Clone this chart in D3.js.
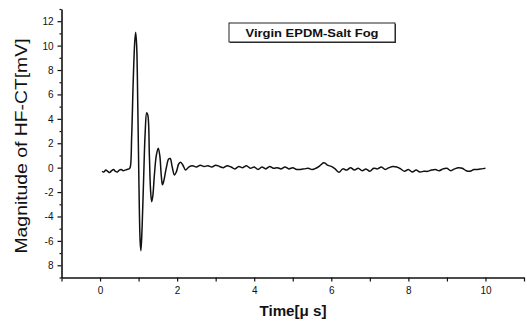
<!DOCTYPE html>
<html>
<head>
<meta charset="utf-8">
<script src="https://cdn.jsdelivr.net/npm/d3@7"></script>
<style>
  body { margin: 0; background: #fff; }
  text { font-family: "Liberation Sans", Arial, sans-serif; fill: #111; }
</style>
</head>
<body>
<svg id="chart" width="527" height="324"></svg>
<script>
// HF-CT signal (time in µs, magnitude in mV)
const times = [
  0.05, 0.10, 0.15, 0.20, 0.25, 0.30, 0.35, 0.40, 0.45, 0.50, 0.55, 0.60, 0.65, 0.70, 0.75, 0.78,
  0.82, 0.86, 0.90, 0.925, 0.95, 0.98, 1.01, 1.04, 1.06, 1.09, 1.13, 1.17, 1.21, 1.24, 1.28, 1.31,
  1.34, 1.37, 1.41, 1.46, 1.51, 1.55, 1.59, 1.62, 1.66, 1.72, 1.78, 1.82, 1.87, 1.93, 1.98, 2.04,
  2.09, 2.15, 2.22, 2.30, 2.40, 2.50, 2.60, 2.70, 2.80, 2.90, 3.00, 3.10, 3.20, 3.30, 3.40, 3.50,
  3.60, 3.70, 3.80, 3.90, 4.00, 4.10, 4.20, 4.30, 4.40, 4.50, 4.60, 4.70, 4.80, 4.90, 5.00, 5.10,
  5.20, 5.30, 5.40, 5.50, 5.60, 5.70, 5.80, 5.85, 5.90, 6.00, 6.10, 6.20, 6.30, 6.40, 6.50, 6.60,
  6.70, 6.80, 6.90, 7.00, 7.10, 7.20, 7.30, 7.40, 7.50, 7.60, 7.70, 7.80, 7.90, 8.00, 8.10, 8.20,
  8.30, 8.40, 8.50, 8.60, 8.70, 8.80, 8.90, 9.00, 9.10, 9.20, 9.30, 9.40, 9.50, 9.60, 9.70, 9.80,
  9.90, 10.00
];
const magnitudes = [
  -0.30, -0.35, -0.20, -0.30, -0.40, -0.25, -0.15, -0.30, -0.35, -0.20, -0.15, -0.25, -0.20, -0.15, -0.10, 0.00,
  2.50, 7.00, 10.30, 11.10, 10.00, 5.00, -1.50, -6.00, -6.80, -5.00, -1.00, 2.80, 4.50, 4.30, 1.00, -1.80,
  -2.80, -2.30, -0.60, 1.00, 1.60, 1.00, -0.70, -1.40, -1.00, 0.00, 0.70, 0.75, 0.10, -0.60, -0.35, 0.30,
  0.45, 0.20, -0.20, 0.05, 0.15, 0.05, 0.20, 0.10, 0.15, 0.05, 0.20, 0.10, 0.00, 0.15, 0.05, -0.10,
  0.10, 0.00, 0.15, -0.05, 0.05, -0.15, 0.05, -0.10, 0.10, -0.05, 0.00, -0.10, 0.05, -0.10, 0.00, -0.15,
  -0.15, -0.10, -0.05, -0.15, -0.05, 0.15, 0.40, 0.35, 0.20, 0.10, -0.10, -0.38, -0.10, -0.20, 0.00, -0.20,
  -0.05, -0.25, -0.10, -0.30, -0.05, -0.10, 0.05, -0.15, 0.00, 0.10, 0.05, -0.10, -0.30, -0.15, -0.35, -0.20,
  -0.35, -0.30, -0.30, -0.20, -0.15, -0.25, -0.10, -0.05, -0.25, -0.10, 0.00, -0.05, -0.25, -0.30, -0.15, -0.15,
  -0.10, -0.05
];

const xTicks = [-1, 0, 1, 2, 3, 4, 5, 6, 7, 8, 9, 10, 11];
const xLabels = [0, 2, 4, 6, 8, 10];
const yTicks = [-9, -8, -7, -6, -5, -4, -3, -2, -1, 0, 1, 2, 3, 4, 5, 6, 7, 8, 9, 10, 11, 12, 13];
const yLabels = [-8, -6, -4, -2, 0, 2, 4, 6, 8, 10, 12];
const yLabelText = ['8', '-6', '-4', '-2', '0', '2', '4', '6', '8', '10', '12'];
const legendText = 'Virgin EPDM-Salt Fog';

const svg = d3.select('#chart');

const x = d3.scaleLinear().domain([-1, 11]).range([61.5, 524]);
const y = d3.scaleLinear().domain([-9, 13]).range([277.5, 9]);

const series = times.map((t, i) => ({ t, v: magnitudes[i] }));

// signal trace
const line = d3.line()
  .x(d => x(d.t))
  .y(d => y(d.v))
  .curve(d3.curveCatmullRom.alpha(0.5));

svg.append('path')
  .datum(series)
  .attr('d', line)
  .attr('fill', 'none')
  .attr('stroke', '#111')
  .attr('stroke-width', 1.5)
  .attr('stroke-linejoin', 'round');

// x axis: ticks every 1, labels every 2
const xAxis = svg.append('g').attr('transform', `translate(0,${y(-9)})`);
xAxis.call(d3.axisBottom(x).tickValues(xTicks).tickSize(4).tickSizeOuter(0)
  .tickFormat(d => xLabels.includes(d) ? d : ''));
xAxis.select('.domain').attr('stroke', '#111').attr('stroke-width', 1.6);
xAxis.selectAll('.tick line').attr('stroke', '#111').attr('stroke-width', 1.2);
xAxis.selectAll('.tick text').attr('font-size', 10).attr('dy', '0.9em').attr('fill', '#111');

// y axis: ticks every 1, labels every 2
const yAxis = svg.append('g').attr('transform', `translate(${x(-1)},0)`);
yAxis.call(d3.axisLeft(y).tickValues(yTicks).tickSizeOuter(0)
  .tickSize(0).tickFormat(''));
yAxis.select('.domain').attr('stroke', '#111').attr('stroke-width', 1.6);
yAxis.selectAll('.tick line')
  .attr('x2', d => yLabels.includes(d) ? -4 : -2)
  .attr('stroke', '#111').attr('stroke-width', 1.2);
yAxis.selectAll('.tick')
  .filter(d => yLabels.includes(d))
  .append('text')
  .attr('x', -8)
  .attr('dy', '0.34em')
  .attr('text-anchor', 'end')
  .attr('font-size', 10)
  .text(d => yLabelText[yLabels.indexOf(d)]);

// axis titles
svg.append('text')
  .attr('x', 293)
  .attr('y', 316)
  .attr('text-anchor', 'middle')
  .attr('font-size', 14)
  .attr('font-weight', 'bold')
  .attr('textLength', 67)
  .attr('lengthAdjust', 'spacingAndGlyphs')
  .text('Time[μ s]');

svg.append('text')
  .attr('transform', 'translate(27,146) rotate(-90)')
  .attr('text-anchor', 'middle')
  .attr('font-size', 16)
  .attr('textLength', 215)
  .attr('lengthAdjust', 'spacingAndGlyphs')
  .text('Magnitude of HF-CT[mV]');

// legend box
const legend = svg.append('g').attr('transform', 'translate(229,23)');
legend.append('rect')
  .attr('x', 1).attr('y', 1)
  .attr('width', 166).attr('height', 19)
  .attr('fill', '#333');
legend.append('rect')
  .attr('width', 166).attr('height', 19)
  .attr('fill', '#fff')
  .attr('stroke', '#222')
  .attr('stroke-width', 1);
legend.append('text')
  .attr('x', 83).attr('y', 14)
  .attr('text-anchor', 'middle')
  .attr('font-size', 11)
  .attr('font-weight', 'bold')
  .attr('textLength', 133)
  .attr('lengthAdjust', 'spacingAndGlyphs')
  .text(legendText);
</script>
</body>
</html>
